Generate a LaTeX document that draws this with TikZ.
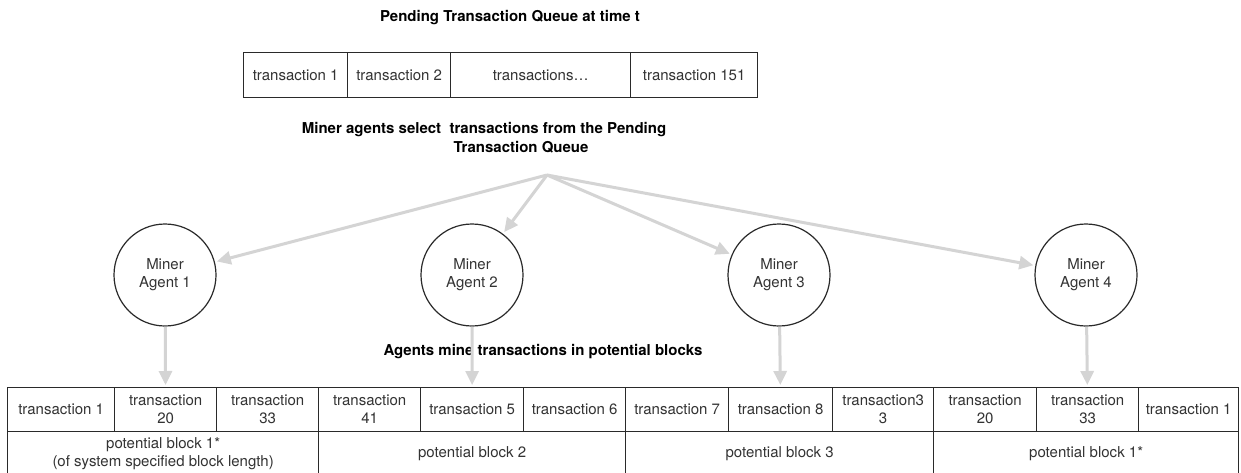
\documentclass[tikz,border=0pt]{standalone}
\usepackage{fontspec}
\setmainfont{TeX Gyre Heros}
\usetikzlibrary{arrows.meta}
\definecolor{arr}{HTML}{D4D4D4}
\definecolor{ln}{HTML}{2A2A2A}
\definecolor{tx}{HTML}{333333}
\begin{document}
\begin{tikzpicture}[x=1pt,y=-1pt,
  cell/.style={draw=ln, line width=1.3pt, rectangle, inner sep=0pt, anchor=north west,
    text=tx, font=\fontsize{15}{18}\selectfont, align=center},
  miner/.style={draw=ln, line width=1.2pt, circle, minimum size=102pt, inner sep=0pt,
    text=tx, font=\fontsize{15}{18}\selectfont, align=center},
  flow/.style={draw=arr, line width=3pt, -{Triangle[length=14pt,width=13pt]}, shorten >=2pt},
  head/.style={font=\bfseries\fontsize{15}{19}\selectfont, align=center, text=black}]
\useasboundingbox (0,0) rectangle (1241,472);
\fill[white] (0,0) rectangle (1241,472);

% title
\node[head] (title) at (510,18) {Pending Transaction Queue at time t};

% pending queue
\node[cell, minimum width=104pt, minimum height=45pt] (q1) at (243,52) {transaction 1};
\node[cell, minimum width=103pt, minimum height=45pt] (q2) at (347,52) {transaction 2};
\node[cell, minimum width=180pt, minimum height=45pt] (q3) at (450,52) {transactions…};
\node[cell, minimum width=127pt, minimum height=45pt] (q4) at (630,52) {transaction 151};

% selection label
\node[head] (sel) at (484,138) {Miner agents select~ transactions from the Pending\\\hspace*{74pt}Transaction Queue};
\coordinate (src) at (547,175);

% miners
\node[miner] (m1) at (165,275) {Miner\\Agent 1};
\node[miner] (m2) at (472,275) {Miner\\Agent 2};
\node[miner] (m3) at (779,275) {Miner\\Agent 3};
\node[miner] (m4) at (1086,275) {Miner\\Agent 4};

\draw[flow] (src) -- (m1);
\draw[flow] (src) -- (m2);
\draw[flow] (src) -- (m3);
\draw[flow] (src) -- (m4);

% mining label
\node[head] (mine) at (543,352) {Agents mine transactions in potential blocks};

% potential block cells
\node[cell, minimum width=107pt, minimum height=44pt] (b1) at (7,387) {transaction 1};
\node[cell, minimum width=102pt, minimum height=44pt] (b2) at (114,387) {transaction\\20};
\node[cell, minimum width=102pt, minimum height=44pt] (b3) at (216,387) {transaction\\33};
\node[cell, minimum width=102pt, minimum height=44pt] (b4) at (318,387) {transaction\\41};
\node[cell, minimum width=103pt, minimum height=44pt] (b5) at (420,387) {transaction 5};
\node[cell, minimum width=102pt, minimum height=44pt] (b6) at (523,387) {transaction 6};
\node[cell, minimum width=103pt, minimum height=44pt] (b7) at (625,387) {transaction 7};
\node[cell, minimum width=104pt, minimum height=44pt] (b8) at (728,387) {transaction 8};
\node[cell, minimum width=101pt, minimum height=44pt] (b9) at (832,387) {transaction3\\3};
\node[cell, minimum width=103pt, minimum height=44pt] (b10) at (933,387) {transaction\\20};
\node[cell, minimum width=102pt, minimum height=44pt] (b11) at (1036,387) {transaction\\33};
\node[cell, minimum width=100pt, minimum height=44pt] (b12) at (1138,387) {transaction 1};

\node[cell, minimum width=311pt, minimum height=45pt] (p1) at (7,431) {potential block 1*\\(of system specified block length)};
\node[cell, minimum width=307pt, minimum height=45pt] (p2) at (318,431) {potential block 2};
\node[cell, minimum width=308pt, minimum height=45pt] (p3) at (625,431) {potential block 3};
\node[cell, minimum width=305pt, minimum height=45pt] (p4) at (933,431) {potential block 1*};

\draw[flow] (m1) -- (b2);
\draw[flow] (m2) -- (b5);
\draw[flow] (m3) -- (b8);
\draw[flow] (m4) -- (b11);
\end{tikzpicture}
\end{document}
